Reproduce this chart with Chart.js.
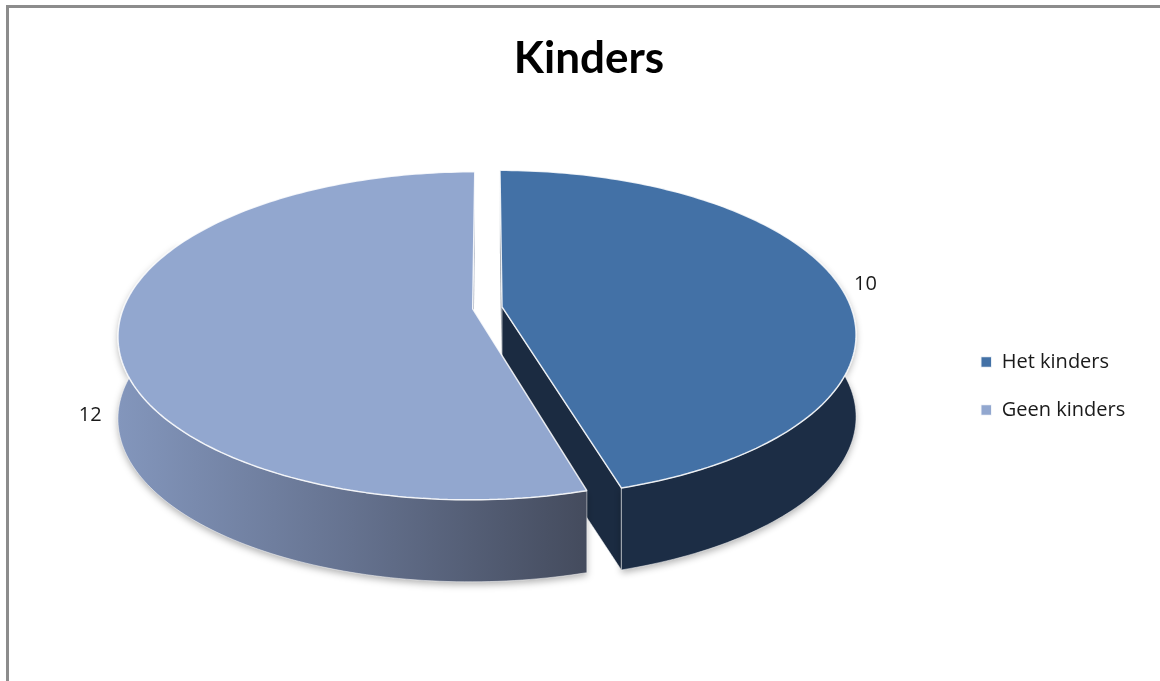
<!DOCTYPE html>
<html>
<head>
<meta charset="utf-8">
<title>Kinders</title>
<script src="https://cdn.jsdelivr.net/npm/chart.js@4.4.1/dist/chart.umd.min.js"></script>
<style>
  html, body { margin: 0; padding: 0; background: #fff; overflow: hidden; }
  .frame { position: absolute; left: 6px; top: 5px; width: 2000px; height: 2000px; border: 3px solid #8c8c8c; }
  .wrap { position: absolute; left: 0; top: 0; width: 1160px; height: 681px; }
</style>
</head>
<body>
<div class="frame"></div>
<div class="wrap"><canvas id="pieChart"></canvas></div>
<script>
// data
const labels = ['Het kinders', 'Geen kinders'];
const counts = [10, 12];
const topColors = ['#4371a6', '#92a7cf'];

// 3D look
const squash = 0.45;   // vertical tilt of the top face
const persp = 0.164;   // perspective: far side smaller than near side
const depth = 82;      // wall height
const explode = 15;    // slice pull-out
const lift = 78;       // top face sits above the plot centre
const labelFont = '20px "Open Sans", Lato, sans-serif';

// plane (x, y) -> screen, with a bit of perspective
function project(px, py, st) {
  const t = (py - st.cy) / st.R;
  const w = 1 - persp * t;
  return { x: st.cx + (px - st.cx) * st.sx / w, y: st.topY + squash * st.R * t / w };
}

const pie3d = {
  id: 'pie3d',
  beforeDatasetsDraw(chart) {
    const arcs = chart.getDatasetMeta(0).data;
    const ctx = chart.ctx;
    const st = {
      cx: (chart.chartArea.left + chart.chartArea.right) / 2,
      cy: (chart.chartArea.top + chart.chartArea.bottom) / 2,
      R: arcs[0].outerRadius,
      sx: Math.sqrt(1 - persp * persp)
    };
    st.topY = st.cy - lift;
    chart.$pie = st;

    // explode slices along their middle angle
    arcs.forEach(a => {
      const mid = (a.startAngle + a.endAngle) / 2;
      a.$base = { x: a.x, y: a.y };
      a.x = a.$base.x + Math.cos(mid) * explode;
      a.y = a.$base.y + Math.sin(mid) * explode;
    });

    const rim = (a, ang) => project(a.x + Math.cos(ang) * a.outerRadius, a.y + Math.sin(ang) * a.outerRadius, st);

    // radial cut faces (behind the outer walls)
    arcs.forEach((a, i) => {
      const c = project(a.x, a.y, st);
      [[a.startAngle, -1], [a.endAngle, 1]].forEach(([ang, side]) => {
        const e = rim(a, ang);
        if (side * (e.x - c.x) < 1) return;
        ctx.save();
        ctx.beginPath();
        ctx.moveTo(c.x, c.y);
        ctx.lineTo(e.x, e.y);
        ctx.lineTo(e.x, e.y + depth);
        ctx.lineTo(c.x, c.y + depth);
        ctx.closePath();
        ctx.fillStyle = i === 0 ? '#1b2b41' : '#5d6a86';
        ctx.fill();
        ctx.strokeStyle = 'rgba(255,255,255,0.55)';
        ctx.lineWidth = 1;
        ctx.stroke();
        ctx.restore();
      });
    });

    // outer walls of the front half (a little extra so the sides close up)
    arcs.forEach((a, i) => {
      const ranges = [];
      [0, 2 * Math.PI, -2 * Math.PI].forEach(k => {
        const f = Math.max(a.startAngle, k - 0.45), t = Math.min(a.endAngle, k + Math.PI + 0.45);
        if (t > f) ranges.push([f, t]);
      });
      ranges.forEach(([f, t]) => {
        const n = Math.max(12, Math.ceil((t - f) / 0.02));
        const pts = [];
        for (let j = 0; j <= n; j++) pts.push(rim(a, f + (t - f) * j / n));
        ctx.save();
        ctx.beginPath();
        pts.forEach((p, j) => j ? ctx.lineTo(p.x, p.y) : ctx.moveTo(p.x, p.y));
        for (let j = pts.length - 1; j >= 0; j--) ctx.lineTo(pts[j].x, pts[j].y + depth);
        ctx.closePath();
        if (i === 0) {
          ctx.fillStyle = '#1c2d45';
        } else {
          const xs = pts.map(p => p.x);
          const g = ctx.createLinearGradient(Math.min(...xs), 0, Math.max(...xs), 0);
          g.addColorStop(0, '#8396bc');
          g.addColorStop(0.5, '#65728f');
          g.addColorStop(1, '#444b5d');
          ctx.fillStyle = g;
        }
        ctx.shadowColor = 'rgba(0,0,0,0.3)';
        ctx.shadowBlur = 7;
        ctx.shadowOffsetY = 3;
        ctx.fill();
        ctx.shadowColor = 'transparent';
        ctx.strokeStyle = 'rgba(255,255,255,0.5)';
        ctx.lineWidth = 1;
        ctx.stroke();
        ctx.restore();
      });
    });

    // let Chart.js draw the top faces, projecting its path calls
    const proto = CanvasRenderingContext2D.prototype;
    ctx.moveTo = (x, y) => { const p = project(x, y, st); proto.moveTo.call(ctx, p.x, p.y); };
    ctx.lineTo = (x, y) => { const p = project(x, y, st); proto.lineTo.call(ctx, p.x, p.y); };
    ctx.arc = (x, y, r, a0, a1, ccw) => {
      if (![x, y, r, a0, a1].every(Number.isFinite)) return;
      let span = ccw ? a0 - a1 : a1 - a0;
      if (span < 0) span += 2 * Math.PI;
      const dir = ccw ? -1 : 1;
      const n = Math.max(8, Math.ceil(span / 0.02));
      for (let j = 0; j <= n; j++) {
        const ang = a0 + dir * span * j / n;
        const p = project(x + Math.cos(ang) * r, y + Math.sin(ang) * r, st);
        proto.lineTo.call(ctx, p.x, p.y);
      }
    };
  },
  afterDatasetsDraw(chart) {
    const ctx = chart.ctx;
    delete ctx.moveTo;
    delete ctx.lineTo;
    delete ctx.arc;
    const st = chart.$pie;
    const arcs = chart.getDatasetMeta(0).data;
    ctx.save();
    ctx.font = labelFont;
    ctx.fillStyle = '#1a1a1a';
    ctx.textBaseline = 'middle';
    arcs.forEach((a, i) => {
      const mid = (a.startAngle + a.endAngle) / 2;
      const r = a.outerRadius + 16;
      const p = project(a.x + Math.cos(mid) * r, a.y + Math.sin(mid) * r, st);
      // labels of front slices sit next to the wall
      const y = p.y + (Math.sin(mid) > 0 ? depth : 0);
      ctx.textAlign = Math.cos(mid) >= 0 ? 'left' : 'right';
      ctx.fillText(String(counts[i]), p.x, y);
    });
    ctx.restore();
    arcs.forEach(a => { if (a.$base) { a.x = a.$base.x; a.y = a.$base.y; } });
  }
};

const ctx = document.getElementById('pieChart').getContext('2d');
new Chart(ctx, {
  type: 'pie',
  data: {
    labels: labels,
    datasets: [{
      data: counts,
      backgroundColor: topColors,
      borderColor: 'rgba(255,255,255,0.85)',
      borderWidth: 1.5,
      radius: 354,
      offset: 0
    }]
  },
  options: {
    responsive: true,
    maintainAspectRatio: false,
    animation: false,
    events: [],
    layout: { padding: { left: 22, right: 4, top: 0, bottom: 2 } },
    plugins: {
      title: {
        display: true,
        text: 'Kinders',
        color: '#000',
        font: { family: 'Lato, "Open Sans", sans-serif', size: 44, weight: 'bold' },
        padding: { top: 32, bottom: 8 }
      },
      legend: {
        position: 'right',
        fullSize: false,
        labels: {
          boxWidth: 11,
          boxHeight: 11,
          padding: 28,
          color: '#1a1a1a',
          font: { family: '"Open Sans", Lato, sans-serif', size: 20 },
          // keep the legend column as wide as the original
          generateLabels(chart) {
            const items = Chart.overrides.pie.plugins.legend.labels.generateLabels(chart);
            items.forEach(it => { it.text = it.text + '\u00a0'.repeat(4); });
            return items;
          }
        }
      },
      tooltip: { enabled: false }
    }
  },
  plugins: [pie3d]
});
</script>
</body>
</html>
